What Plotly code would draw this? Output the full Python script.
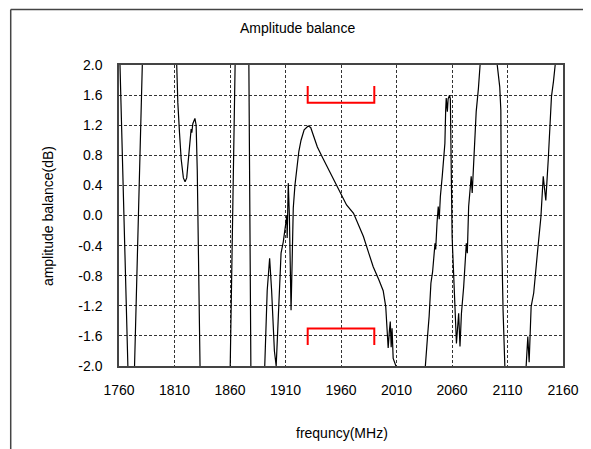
import plotly.graph_objects as go

# Frequency (MHz) and amplitude balance (dB)
freq = [1760, 1768, 1771, 1774, 1781, 1796, 1812, 1813, 1814.5, 1816, 1818, 1819.5, 1821, 1822.5,
        1824, 1825, 1825.6, 1826.5, 1828.4, 1829.5, 1830.5, 1833, 1846, 1860.2, 1864.6, 1871,
        1877, 1878.8, 1885, 1891.3, 1893.5, 1895.7, 1897.5, 1900, 1901.6, 1903, 1904.5, 1906,
        1908, 1910, 1911.2, 1911.5, 1912.5, 1913.5, 1915, 1916, 1917, 1918.5, 1920, 1922, 1924,
        1926.8, 1930.4, 1932.7, 1935, 1938.7, 1943, 1947.6, 1953, 1959.4, 1963, 1965, 1971.3,
        1975, 1980.2, 1985, 1989, 1994, 1998, 2000.3, 2001.5, 2002.5, 2003.5, 2004.4, 2005.2,
        2006, 2007, 2008.5, 2010, 2035.5, 2036, 2038, 2039.4, 2041, 2042.5, 2044.7, 2045.3,
        2046.5, 2047.6, 2048.5, 2049.5, 2051.2, 2053.6, 2054.3, 2054.8, 2055.8, 2056.5, 2057.8,
        2058.5, 2060.1, 2062, 2064, 2066, 2067.2, 2068.5, 2070.5, 2072.9, 2073.8, 2075, 2077.3,
        2078.2, 2080, 2081.8, 2083.8, 2085.3, 2093, 2101, 2103, 2104, 2104.6, 2106, 2107.6,
        2117, 2126.8, 2128.3, 2129.5, 2131.3, 2133.6, 2137.2, 2140.1, 2142.2, 2144.5, 2146.7,
        2148.4, 2149.6, 2151.4, 2152.6, 2160]
balance = [2.5, -2.0, -2.8, -2.0, 2.0, 3.0, 2.0, 1.5, 1.1, 0.75, 0.5, 0.45, 0.5, 0.75,
           1.05, 1.15, 1.1, 1.22, 1.29, 1.2, 0.6, -2.0, -3.0, -2.0, 2.0, 3.0,
           2.0, -2.0, -3.0, -2.0, -1.0, -0.57, -1.0, -1.8, -2.0, -1.5, -0.9, -0.5,
           -0.35, -0.15, 0.0, -0.3, 0.43, 0.0, -1.26, -0.6, 0.1, 0.4, 0.6, 0.85, 1.0,
           1.14, 1.19, 1.17, 1.07, 0.91, 0.78, 0.65, 0.48, 0.30, 0.20, 0.14, 0.03,
           -0.1, -0.28, -0.5, -0.68, -0.85, -1.0, -1.21, -1.61, -1.76, -1.55, -1.41, -1.75,
           -1.5, -1.9, -1.95, -2.02, -2.02, -2.0, -1.6, -1.34, -0.9, -0.75, -0.37, -0.45,
           -0.1, 0.12, -0.05, 0.25, 0.52, 0.96, 1.4, 1.56, 1.38, 1.55, 1.6,
           1.55, -0.28, -0.95, -1.70, -1.30, -1.74, -1.3, -0.95, -0.37, -0.5, 0.12, 0.52,
           0.3, 0.91, 1.38, 1.69, 2.0, 3.0, 2.0, 1.71, 1.40, -0.19, -1.26, -2.0,
           -3.0, -2.0, -1.61, -1.95, -1.21, -1.03, -0.46, -0.02, 0.52, 0.2, 0.74,
           1.18, 1.58, 1.78, 2.0, 3.0]

# Red spec brackets (frequency band and limits)
bracket_upper_x = [1930, 1930, 1990, 1990]
bracket_upper_y = [1.72, 1.5, 1.5, 1.72]
bracket_lower_x = [1930, 1930, 1990, 1990]
bracket_lower_y = [-1.72, -1.5, -1.5, -1.72]

x_ticks = [1760, 1810, 1860, 1910, 1960, 2010, 2060, 2110, 2160]
y_ticks = [2.0, 1.6, 1.2, 0.8, 0.4, 0.0, -0.4, -0.8, -1.2, -1.6, -2.0]
y_labels = ["%.1f" % v for v in y_ticks]

OFF = 8  # page body margin
W, H = 591 - OFF, 449 - OFF
L, R, T, B = 119 - OFF, 570 - OFF, 65 - OFF, 366 - OFF


def px(x):
    return (x - OFF - L) / (R - L)


def py(y):
    return (B - (y - OFF)) / (B - T)


fig = go.Figure()
fig.add_trace(go.Scatter(x=freq, y=balance, mode="lines",
                         line=dict(color="black", width=1.2), showlegend=False))
fig.add_trace(go.Scatter(x=bracket_upper_x, y=bracket_upper_y, mode="lines",
                         line=dict(color="#ff0000", width=2), showlegend=False))
fig.add_trace(go.Scatter(x=bracket_lower_x, y=bracket_lower_y, mode="lines",
                         line=dict(color="#ff0000", width=2), showlegend=False))

font = dict(family="Liberation Sans, Arial, sans-serif", size=14, color="black")
grid = dict(showgrid=True, gridcolor="#333333", gridwidth=1, griddash="3px,2px",
            showline=True, linecolor="#444444", linewidth=1.5, mirror=True,
            zeroline=False, ticks="", tickfont=font)

fig.update_layout(
    width=W, height=H,
    margin=dict(l=L, r=W - R, t=T, b=H - B, pad=0),
    paper_bgcolor="white", plot_bgcolor="white",
    font=font,
    xaxis=dict(range=[1760, 2160], tickvals=x_ticks, ticklabelstandoff=10, **grid),
    yaxis=dict(range=[-2.0, 2.0], tickvals=y_ticks, ticktext=y_labels,
               ticklabelstandoff=12, **grid),
    annotations=[
        dict(text="Amplitude balance", xref="paper", yref="paper",
             x=px(300), y=py(28), showarrow=False,
             xanchor="center", yanchor="middle", font=font),
        dict(text="frequncy(MHz)", xref="paper", yref="paper",
             x=px(346), y=py(433), showarrow=False,
             xanchor="center", yanchor="middle", font=font),
        dict(text="amplitude balance(dB)", xref="paper", yref="paper",
             x=px(47), y=py(216), showarrow=False,
             textangle=-90, xanchor="center", yanchor="middle", font=font),
    ],
    shapes=[
        dict(type="line", xref="paper", yref="paper",
             x0=px(9), x1=px(9), y0=py(470), y1=py(9.5),
             line=dict(color="#444444", width=1.5)),
        dict(type="line", xref="paper", yref="paper",
             x0=px(9), x1=px(620), y0=py(9.5), y1=py(9.5),
             line=dict(color="#444444", width=1.5)),
    ],
)

fig.write_html("out.html")
